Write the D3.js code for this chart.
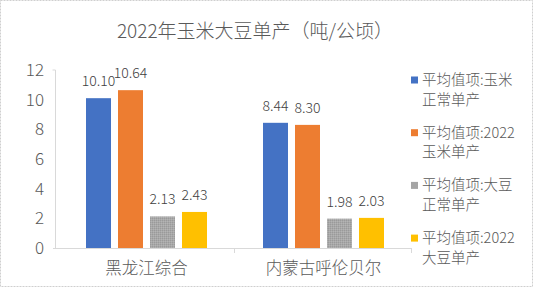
<!DOCTYPE html>
<html>
<head>
<meta charset="utf-8">
<script src="https://cdn.jsdelivr.net/npm/d3@7"></script>
<style>
  body { margin: 0; background: #fff; }
  text { font-family: "Noto Sans CJK SC", "Noto Sans", sans-serif; font-weight: 300; fill: #595959; }
</style>
</head>
<body>
<div id="container"></div>
<script>
// dados
var categories = ["黑龙江综合", "内蒙古呼伦贝尔"];
var seriesNames = ["平均值项:玉米正常单产", "平均值项:2022玉米单产", "平均值项:大豆正常单产", "平均值项:2022大豆单产"];
var legendLines = [["平均值项:玉米", "正常单产"], ["平均值项:2022", "玉米单产"], ["平均值项:大豆", "正常单产"], ["平均值项:2022", "大豆单产"]];
var cornNormal = [10.10, 8.44];
var corn2022 = [10.64, 8.30];
var soyNormal = [2.13, 1.98];
var soy2022 = [2.43, 2.03];
var yTicks = [0, 2, 4, 6, 8, 10, 12];
var colors = ["#4472C4", "#ED7D31", "url(#dots)", "#FFC000"];
var legendColors = ["#4472C4", "#ED7D31", "#A5A5A5", "#FFC000"];

var width = 533, height = 287;

var svg = d3.select("#container")
  .append("svg")
  .attr("width", width)
  .attr("height", height);

// textura da barra cinza
var pat = svg.append("defs").append("pattern")
  .attr("id", "dots")
  .attr("width", 2).attr("height", 2)
  .attr("patternUnits", "userSpaceOnUse");
pat.append("rect").attr("width", 2).attr("height", 2).attr("fill", "#a8a8a8");
pat.append("rect").attr("width", 1).attr("height", 1).attr("fill", "#9a9a9a");
pat.append("rect").attr("x", 1).attr("y", 1).attr("width", 1).attr("height", 1).attr("fill", "#b4b4b4");

// borda
svg.append("rect")
  .attr("x", 0.5).attr("y", 0.5)
  .attr("width", width - 1).attr("height", height - 1)
  .attr("fill", "none")
  .attr("stroke", "#cfcfcf")
  .attr("stroke-dasharray", "2,1");

// título
svg.append("text")
  .text("2022年玉米大豆单产（吨/公顷）")
  .attr("x", 255)
  .attr("y", 38)
  .attr("text-anchor", "middle")
  .attr("font-size", 19);

// escalas
var x = d3.scaleBand().domain(categories).range([58, 412]);
var xInner = d3.scaleBand().domain(seriesNames).range([-60.5, 60.5]).paddingInner(0.21875);
var y = d3.scaleLinear().domain([0, 12]).range([248, 70]);

var data = [];
categories.forEach(function(c, i) {
  [cornNormal, corn2022, soyNormal, soy2022].forEach(function(arr, j) {
    data.push({ cat: c, series: seriesNames[j], value: arr[i], color: colors[j] });
  });
});

// eixo y
svg.selectAll(".ytick")
  .data(yTicks)
  .enter().append("text")
  .attr("class", "ytick")
  .attr("x", 44)
  .attr("y", function(d) { return y(d) })
  .attr("dy", "0.35em")
  .attr("text-anchor", "end")
  .attr("font-size", 17)
  .text(function(d) { return d });

svg.append("path")
  .attr("d", "M52.5," + y(12) + "H55.5V" + y(0))
  .attr("fill", "none")
  .attr("stroke", "#d9d9d9");

// eixo x
svg.append("path")
  .attr("d", "M53," + (y(0) + 0.5) + "H" + x.range()[1])
  .attr("fill", "none")
  .attr("stroke", "#d9d9d9");

svg.selectAll(".xtick-mark")
  .data(categories)
  .enter().append("line")
  .attr("x1", function(d) { return Math.round(x(d) + x.bandwidth()) - 0.5 })
  .attr("x2", function(d) { return Math.round(x(d) + x.bandwidth()) - 0.5 })
  .attr("y1", y(0))
  .attr("y2", y(0) + 5)
  .attr("stroke", "#d9d9d9");

svg.selectAll(".xlabel")
  .data(categories)
  .enter().append("text")
  .attr("x", function(d) { return x(d) + x.bandwidth() / 2 })
  .attr("y", 274)
  .attr("text-anchor", "middle")
  .attr("font-size", 16.5)
  .text(function(d) { return d });

// barras
svg.selectAll(".bar")
  .data(data)
  .enter().append("rect")
  .attr("class", "bar")
  .attr("x", function(d) { return x(d.cat) + x.bandwidth() / 2 + xInner(d.series) })
  .attr("width", xInner.bandwidth())
  .attr("y", function(d) { return y(d.value) })
  .attr("height", function(d) { return y(0) - y(d.value) })
  .attr("fill", function(d) { return d.color });

// rótulos
svg.selectAll(".label")
  .data(data)
  .enter().append("text")
  .attr("x", function(d) { return x(d.cat) + x.bandwidth() / 2 + xInner(d.series) + xInner.bandwidth() / 2 })
  .attr("y", function(d) { return y(d.value) - 12 })
  .attr("text-anchor", "middle")
  .attr("font-size", 14)
  .style("fill", "#404040")
  .text(function(d) { return d.value.toFixed(2) });

// legenda
var legend = svg.selectAll(".legend")
  .data(seriesNames)
  .enter().append("g")
  .attr("transform", function(d, i) { return "translate(411," + (80 + i * 52.7) + ")" });

legend.append("rect")
  .attr("x", 0).attr("y", -3.5)
  .attr("width", 7).attr("height", 7)
  .attr("fill", function(d, i) { return legendColors[i] });

legend.each(function(d, i) {
  var g = d3.select(this);
  legendLines[i].forEach(function(line, k) {
    g.append("text")
      .attr("x", 11)
      .attr("y", k * 19.5)
      .attr("dy", "0.35em")
      .attr("font-size", 14.5)
      .text(line);
  });
});
</script>
</body>
</html>
